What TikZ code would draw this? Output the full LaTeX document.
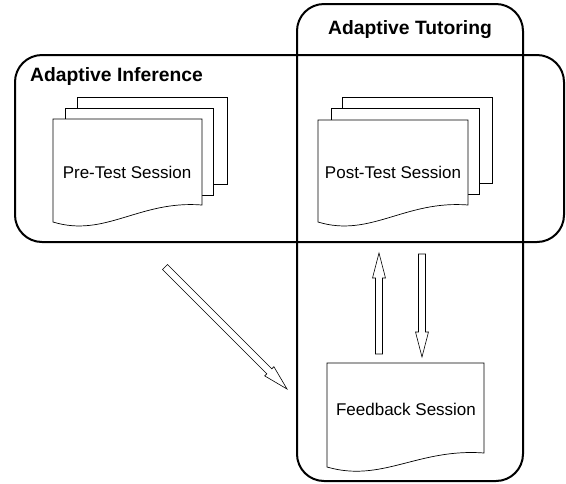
\documentclass[tikz,border=0pt]{standalone}
\usepackage{fontspec}
\setmainfont{Liberation Sans}
\usetikzlibrary{calc}
\tikzset{
  region/.style={draw, line width=2pt, rounded corners=27pt},
  docline/.style={draw, fill=white, line width=0.7pt},
  arrowline/.style={draw, fill=white, line width=0.6pt},
  regiontitle/.style={font=\fontsize{19.3}{21}\selectfont\bfseries, inner sep=0pt},
  doctext/.style={font=\fontsize{17}{19}\selectfont, inner sep=0pt},
}
\newcommand\docpage[5]{\path[docline] (#1,#2) -- ({#1+#3},#2) -- ({#1+#3},{#2+#5}) .. controls ({#1+0.58*#3},{#2+#5-5}) and ({#1+0.35*#3},{#2+#4+16}) .. (#1,{#2+#4}) -- cycle;}
\newcommand\backpage[4]{\path[docline] (#1,#2) rectangle ({#1+#3},{#2+#4});}
\newcommand\outarrow[2]{\path[arrowline]
  ($(#1)!3.5pt!90:(#2)$) --
  ($(#2)!25pt!(#1)!3.5pt!90:(#2)$) --
  ($(#2)!25pt!(#1)!6.5pt!90:(#2)$) --
  (#2) --
  ($(#2)!25pt!(#1)!6.5pt!-90:(#2)$) --
  ($(#2)!25pt!(#1)!3.5pt!-90:(#2)$) --
  ($(#1)!3.5pt!-90:(#2)$) -- cycle;}
\begin{document}
\begin{tikzpicture}[x=1pt,y=-1pt]
\useasboundingbox (0,0) rectangle (566,483);
% regions
\draw[region] (15,55) rectangle (564,242);
\draw[region] (297,4) rectangle (523,481);
% pre-test pages
\backpage{77}{97}{150}{87}
\backpage{65}{108}{148}{87}
\docpage{53}{119}{149}{103}{86}
% post-test pages
\backpage{342}{97}{150}{86}
\backpage{331}{108}{148}{86}
\docpage{318}{120}{150}{102}{85}
% feedback page
\docpage{327}{363}{157}{104}{90}
% texts
\node[regiontitle, anchor=west] (ai) at (30,77) {Adaptive Inference};
\node[regiontitle] (at) at (410,30) {Adaptive Tutoring};
\node[doctext] (pre) at (127,172) {Pre-Test Session};
\node[doctext] (post) at (393,172) {Post-Test Session};
\node[doctext] (fb) at (406,409) {Feedback Session};
% arrows
\coordinate (d1) at (165,267);
\coordinate (d2) at (287,389);
\coordinate (u1) at (379,354);
\coordinate (u2) at (379,253);
\coordinate (v1) at (422,254);
\coordinate (v2) at (422,357);
\outarrow{d1}{d2}
\outarrow{u1}{u2}
\outarrow{v1}{v2}
\end{tikzpicture}
\end{document}
